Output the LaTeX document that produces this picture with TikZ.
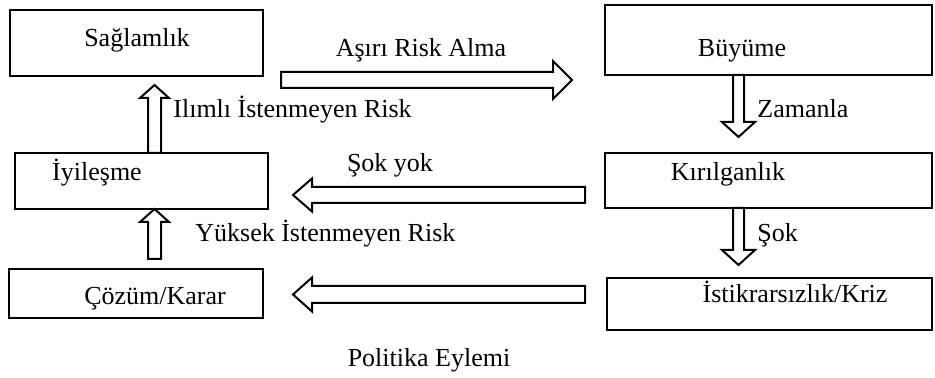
\documentclass[tikz,border=0pt]{standalone}
\usepackage{fontspec}
\setmainfont{Liberation Serif}
\usetikzlibrary{positioning,calc}

% hollow block arrow: start, tip, shaft half width, head half width, head length
\newcommand{\kalinok}[5]{%
  \coordinate (hb) at ($(#2)!#5!(#1)$);
  \draw[okcizgi] ($(#1)!#3!90:(#2)$) -- ($(hb)!#3!90:(#2)$) -- ($(hb)!#4!90:(#2)$)
    -- (#2) -- ($(hb)!#4!-90:(#2)$) -- ($(hb)!#3!-90:(#2)$) -- ($(#1)!#3!-90:(#2)$) -- cycle;}

\begin{document}
\begin{tikzpicture}[x=0.5pt, y=-0.5pt,
  kutu/.style={draw, line width=1.2pt, inner sep=0pt, outer sep=0pt},
  yazi/.style={inner sep=0pt, font=\fontsize{13pt}{15pt}\selectfont},
  okcizgi/.style={draw, fill=white, line width=1pt, line join=miter}]
\useasboundingbox (0,0) rectangle (935,378);

% Boxes
\node[kutu, minimum width=126.5pt, minimum height=33pt] (sag) at (136.5,43) {};
\node[kutu, minimum width=163.5pt, minimum height=35pt] (buy) at (768.5,40) {};
\node[kutu, minimum width=163.5pt, minimum height=27.5pt] (kir) at (768.5,180.5) {};
\node[kutu, minimum width=162.5pt, minimum height=26pt] (ist) at (769.5,304) {};
\node[kutu, minimum width=126.5pt, minimum height=28pt] (iyi) at (141.5,181) {};
\node[kutu, minimum width=127pt, minimum height=24.5pt] (coz) at (136,293.5) {};

% Box texts
\node[yazi, anchor=base] (t-sag) at (137,47) {Sağlamlık};
\node[yazi, anchor=base] (t-buy) at (742,57) {Büyüme};
\node[yazi, anchor=base] (t-kir) at (728,181) {Kırılganlık};
\node[yazi, anchor=base] (t-ist) at (795,303) {İstikrarsızlık/Kriz};
\node[yazi, anchor=base] (t-iyi) at (97,181) {İyileşme};
\node[yazi, anchor=base] (t-coz) at (155,305) {Çözüm/Karar};

% Arrow ends
\coordinate (ilm-uc) at (154.5,85);
\coordinate (ilm-a) at (iyi.north -| ilm-uc);
\coordinate (yuk-a) at (154.5,259);
\coordinate (yuk-uc) at (iyi.south -| yuk-a);
\coordinate (zam-uc) at (738.5,137);
\coordinate (zam-a) at (buy.south -| zam-uc);
\coordinate (sok-uc) at (738.5,265);
\coordinate (sok-a) at (kir.south -| sok-uc);
\coordinate (asr-a) at (281,80);
\coordinate (asr-uc) at (572,80);
\coordinate (sy-a) at (585,195);
\coordinate (sy-uc) at (293,195);
\coordinate (pol-a) at (585,294.5);
\coordinate (pol-uc) at (293,294.5);

% Arrows
\kalinok{ilm-a}{ilm-uc}{3.25pt}{7.25pt}{6.5pt}
\kalinok{yuk-a}{yuk-uc}{3.25pt}{7.25pt}{6.5pt}
\kalinok{zam-a}{zam-uc}{2.75pt}{8.25pt}{7.5pt}
\kalinok{sok-a}{sok-uc}{2.75pt}{8.25pt}{7.5pt}
\kalinok{asr-a}{asr-uc}{4pt}{9.5pt}{9.5pt}
\kalinok{sy-a}{sy-uc}{4pt}{8.25pt}{9.5pt}
\kalinok{pol-a}{pol-uc}{4.25pt}{8.5pt}{9.5pt}

% Arrow labels
\node[yazi, anchor=base] (l-asr) at (421,57) {Aşırı Risk Alma};
\node[yazi, anchor=base west] (l-ilm) at (173,118) {Ilımlı İstenmeyen Risk};
\node[yazi, anchor=base west] (l-zam) at (757,118) {Zamanla};
\node[yazi, anchor=base] (l-sy) at (390,172) {Şok yok};
\node[yazi, anchor=base west] (l-yuk) at (195,242) {Yüksek İstenmeyen Risk};
\node[yazi, anchor=base west] (l-sok) at (757,242) {Şok};
\node[yazi, anchor=base] (l-pol) at (429,366) {Politika Eylemi};

\end{tikzpicture}
\end{document}
